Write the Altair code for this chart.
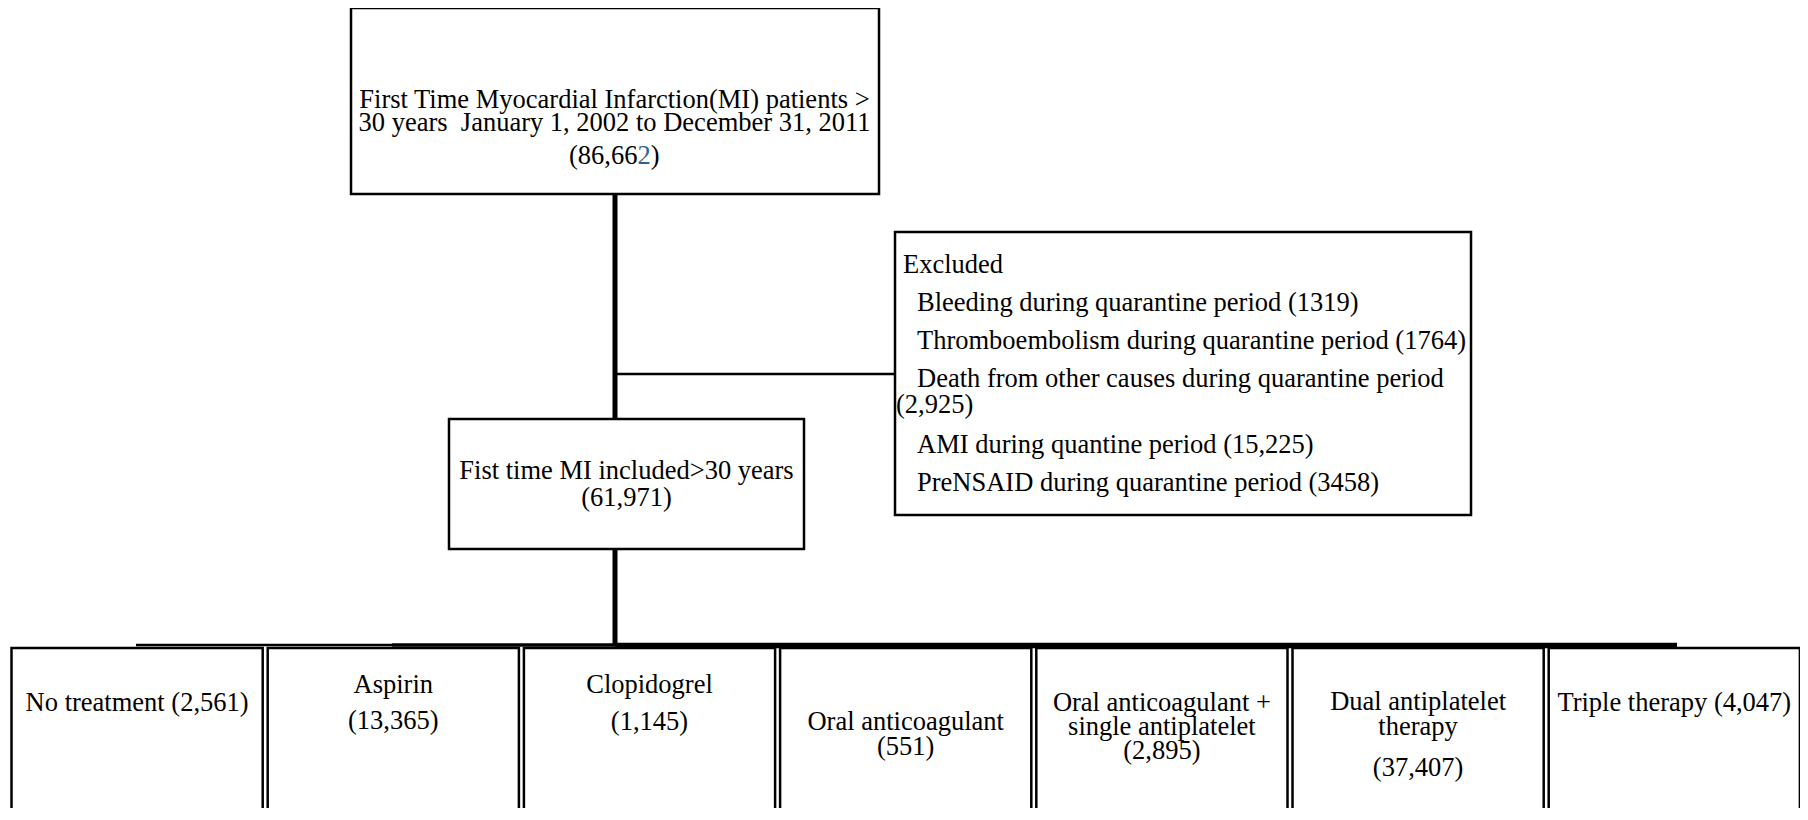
import altair as alt
import pandas as pd

# ---------------- content ----------------
top_lines = ["First Time Myocardial Infarction(MI) patients >",
             "30 years \u00a0January 1, 2002 to December 31, 2011"]
top_count = "86,662"
mid_label = "Fist time MI included>30 years"
mid_count = "61,971"
excluded_title = "Excluded"
excluded_items = ["Bleeding during quarantine period",
                  "Thromboembolism during quarantine period",
                  "Death from other causes during quarantine period",
                  "AMI during quantine period",
                  "PreNSAID during quarantine period"]
excluded_counts = ["1319", "1764", "2,925", "15,225", "3458"]
treatments = ["No treatment", "Aspirin", "Clopidogrel", "Oral anticoagulant",
              "Oral anticoagulant + single antiplatelet",
              "Dual antiplatelet therapy", "Triple therapy"]
treatment_counts = ["2,561", "13,365", "1,145", "551", "2,895", "37,407", "4,047"]

# ---------------- layout (page pixels) ----------------
FONT = "Liberation Serif"
FS = 26.5
BW = 2.5

boxes = [
    dict(x=351, x2=879, y=8, y2=194),        # top
    dict(x=449, x2=804, y=419, y2=549),      # middle
    dict(x=895, x2=1471, y=232, y2=515),     # excluded
]
bx0, bw, gap = 11.5, 251.2, 5.0
for i in range(len(treatments)):
    l = bx0 + i * (bw + gap)
    boxes.append(dict(x=l, x2=l + bw, y=648, y2=840))
box_df = pd.DataFrame(boxes)

rules = [
    dict(x=615, x2=615, y=194, y2=419, w=5),     # top -> middle
    dict(x=615, x2=895, y=374, y2=374, w=2.5),   # to excluded
    dict(x=615, x2=615, y=549, y2=646, w=5),     # middle -> bar
    dict(x=136, x2=392, y=645, y2=645, w=2.5),
    dict(x=392, x2=615, y=645, y2=645, w=3.5),
    dict(x=615, x2=1677, y=645.5, y2=645.5, w=5.5),
]
rule_df = pd.DataFrame(rules)

texts = []
def T(x, y, s, align="center", color="black"):
    texts.append(dict(x=x, y=y, text=s, align=align, color=color))

# top box
T(614.5, 100, top_lines[0])
T(614.5, 123, top_lines[1])
cnt = "(" + top_count + ")"
CY = 156
T(637.5, CY, cnt[:-2], align="right")
T(637.5, CY, cnt[-2], align="left", color="#2e5f99")
T(650.7, CY, cnt[-1], align="left")

# middle box
T(626.5, 471, mid_label)
T(626.5, 498, "(" + mid_count + ")")

# excluded box
T(903, 265, excluded_title, align="left")
ex_y = [303, 341, 379, 445, 483]
for i, (item, c) in enumerate(zip(excluded_items, excluded_counts)):
    if i == 2:
        T(917, ex_y[i], item, align="left")
        T(896, 405, "(" + c + ")", align="left")
    else:
        T(917, ex_y[i], item + " (" + c + ")", align="left")

# treatment boxes: line splits and vertical positions
splits = [
    [treatments[0] + " (" + treatment_counts[0] + ")"],
    [treatments[1], "(" + treatment_counts[1] + ")"],
    [treatments[2], "(" + treatment_counts[2] + ")"],
    [treatments[3], "(" + treatment_counts[3] + ")"],
    ["Oral anticoagulant +", "single antiplatelet", "(" + treatment_counts[4] + ")"],
    ["Dual antiplatelet", "therapy", "(" + treatment_counts[5] + ")"],
    [treatments[6] + " (" + treatment_counts[6] + ")"],
]
ys = [
    [703],
    [685, 721],
    [685, 722],
    [722, 747],
    [703, 727, 751],
    [702, 727, 768],
    [703],
]
for i in range(len(treatments)):
    cx = bx0 + i * (bw + gap) + bw / 2
    for s, y in zip(splits[i], ys[i]):
        T(cx, y, s)
text_df = pd.DataFrame(texts)

# ---------------- chart ----------------
W, H = 1792, 800
xs = alt.Scale(domain=[8, 8 + W], zero=False, nice=False)
ysc = alt.Scale(domain=[8, 8 + H], zero=False, nice=False, reverse=True)

rect_layer = alt.Chart(box_df).mark_rect(
    fill="white", stroke="black", strokeWidth=BW, clip=True
).encode(
    x=alt.X("x:Q", scale=xs, axis=None), x2="x2:Q",
    y=alt.Y("y:Q", scale=ysc, axis=None), y2="y2:Q",
)

rule_layer = alt.Chart(rule_df).mark_rule(color="black", clip=True).encode(
    x=alt.X("x:Q", scale=xs, axis=None), x2="x2:Q",
    y=alt.Y("y:Q", scale=ysc, axis=None), y2="y2:Q",
    strokeWidth=alt.StrokeWidth("w:Q", scale=None),
)

def text_layer(align):
    return alt.Chart(text_df).transform_filter(
        alt.datum.align == align
    ).mark_text(
        font=FONT, fontSize=FS, align=align, baseline="middle"
    ).encode(
        x=alt.X("x:Q", scale=xs, axis=None),
        y=alt.Y("y:Q", scale=ysc, axis=None),
        text="text:N",
        color=alt.Color("color:N", scale=None),
    )

chart = alt.layer(
    rule_layer, rect_layer, text_layer("center"), text_layer("left"), text_layer("right")
).properties(
    width=W, height=H, padding=0,
    autosize=alt.AutoSizeParams(type="none"),
    background="white",
).configure_view(stroke=None)

chart.save("out.html", embed_options={"renderer": "svg", "actions": False})
